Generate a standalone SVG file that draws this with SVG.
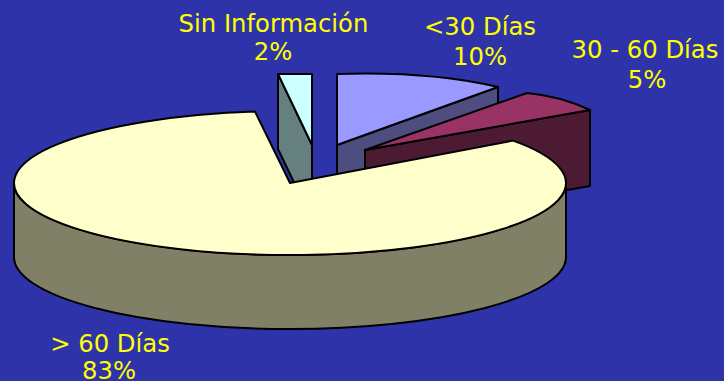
<svg xmlns="http://www.w3.org/2000/svg" width="724" height="381" viewBox="0 0 724 381">
<style>
.o{stroke:#000;stroke-width:2;stroke-linejoin:round}
.lbl{font-family:"DejaVu Sans","Verdana",sans-serif;font-size:24.3px;fill:#ffff00;text-anchor:middle}
</style>
<rect width="724" height="381" fill="#2f33aa"/>
<g id="slice-sin-info">
<path class="o" d="M278,74 L312,145 L312,220 L278,149 Z" fill="#668080"/>
<path class="o" d="M278,74 L312,74 L312,145 Z" fill="#ccffff"/>
<text class="lbl" x="273.5" y="32">Sin Información</text>
<text class="lbl" x="273" y="60">2%</text>
</g>
<g id="slice-lt30">
<path class="o" d="M337,145 L498,87 L498,162 L337,220 Z" fill="#4d4d80"/>
<path class="o" d="M337,145 L337,74 Q430,71 498,87 Z" fill="#9999ff"/>
<text class="lbl" x="480" y="35">&lt;30 Días</text>
<text class="lbl" x="480" y="65">10%</text>
</g>
<g id="slice-30-60">
<path class="o" d="M365,150 L590,110 L590,186 L365,226 Z" fill="#4d1a33"/>
<path class="o" d="M365,150 L527,93 Q560,96 590,110 Z" fill="#993366"/>
<text class="lbl" x="645" y="58">30 - 60 Días</text>
<text class="lbl" x="647" y="88">5%</text>
</g>
<g id="slice-gt60">
<path class="o" d="M14,183 A276,72 0 0,0 566,183 L566,257 A276,72 0 0,1 14,257 Z" fill="#808066"/>
<path class="o" d="M290,183 L513,140.6 A276,72 0 1,1 255,111.6 Z" fill="#ffffcc"/>
<text class="lbl" x="110" y="352">&gt; 60 Días</text>
<text class="lbl" x="109" y="379">83%</text>
</g>
</svg>
